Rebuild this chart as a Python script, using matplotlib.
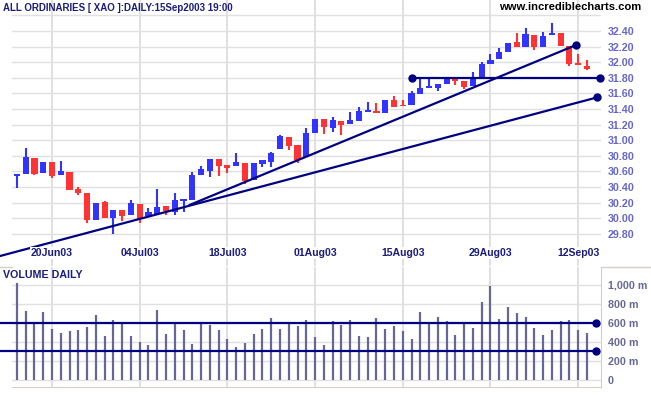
import matplotlib
matplotlib.use("Agg")
import matplotlib.pyplot as plt
from matplotlib.lines import Line2D

# ALL ORDINARIES daily, trading days 16 Jun 2003 .. 15 Sep 2003
opens = [30.535, 30.571, 30.772, 30.583, 30.72, 30.558, 30.592, 30.37, 30.323, 29.973,
         30.204, 30.00, 30.101, 30.041, 30.182, 30.032, 30.05, 30.153, 30.08, 30.22,
         30.233, 30.55, 30.609, 30.759, 30.682, 30.665, 30.712, 30.49, 30.691, 30.724,
         30.891, 31.041, 30.938, 30.781, 31.088, 31.268, 31.16, 31.242, 31.204, 31.25,
         31.365, 31.378, 31.353, 31.52, 31.455, 31.447, 31.596, 31.669, 31.673, 31.717,
         31.814, 31.755, 31.695, 31.794, 31.973, 32.037, 32.135, 32.255, 32.199, 32.345,
         32.199, 32.349, 32.374, 32.208, 31.994, 31.955]
highs = [30.567, 30.90, 30.772, 30.72, 30.72, 30.733, 30.592, 30.40, 30.323, 30.195,
         30.22, 30.101, 30.101, 30.23, 30.182, 30.127, 30.374, 30.153, 30.323, 30.242,
         30.589, 30.673, 30.759, 30.759, 30.682, 30.84, 30.712, 30.712, 30.742, 30.853,
         31.07, 31.041, 30.938, 31.153, 31.268, 31.268, 31.294, 31.242, 31.362, 31.426,
         31.486, 31.477, 31.52, 31.567, 31.515, 31.63, 31.81, 31.785, 31.717, 31.814,
         31.814, 31.755, 31.87, 31.999, 32.10, 32.178, 32.242, 32.378, 32.435, 32.345,
         32.383, 32.499, 32.374, 32.208, 32.105, 32.024]
lows = [30.391, 30.571, 30.558, 30.583, 30.519, 30.558, 30.365, 30.294, 29.935, 29.973,
        30.006, 29.794, 29.968, 30.041, 29.935, 30.032, 30.05, 30.037, 30.045, 30.076,
        30.233, 30.55, 30.532, 30.541, 30.576, 30.665, 30.435, 30.49, 30.66, 30.653,
        30.891, 30.878, 30.712, 30.781, 31.088, 31.083, 31.105, 31.07, 31.204, 31.25,
        31.365, 31.345, 31.353, 31.426, 31.435, 31.447, 31.596, 31.669, 31.627, 31.717,
        31.712, 31.66, 31.695, 31.794, 31.973, 32.037, 32.135, 32.199, 32.199, 32.153,
        32.19, 32.349, 32.208, 31.947, 31.96, 31.896]
closes = [30.567, 30.781, 30.571, 30.72, 30.545, 30.601, 30.365, 30.319, 29.973, 30.195,
          30.006, 30.101, 30.032, 30.191, 29.99, 30.076, 30.147, 30.088, 30.237, 30.242,
          30.55, 30.631, 30.759, 30.673, 30.647, 30.72, 30.477, 30.712, 30.742, 30.84,
          31.058, 30.93, 30.746, 31.088, 31.268, 31.165, 31.259, 31.191, 31.259, 31.37,
          31.383, 31.345, 31.52, 31.426, 31.435, 31.605, 31.673, 31.695, 31.717, 31.814,
          31.759, 31.682, 31.81, 31.981, 32.032, 32.135, 32.242, 32.199, 32.362, 32.199,
          32.336, 32.378, 32.208, 31.973, 31.96, 31.917]
volumes = [1015, 725, 609, 714, 536, 494, 515, 525, 557, 683,
           462, 630, 599, 462, 399, 368, 735, 483, 599, 525,
           378, 599, 578, 525, 431, 347, 389, 483, 536, 651,
           536, 599, 567, 630, 452, 368, 616, 574, 627, 462,
           452, 648, 536, 564, 515, 431, 714, 599, 662, 620,
           473, 599, 546, 819, 987, 641, 767, 704, 662, 546,
           473, 525, 620, 630, 525, 494]  # millions

date_pos = [4, 14, 24, 34, 44, 54, 64]
date_labels = ["20Jun03", "04Jul03", "18Jul03", "01Aug03", "15Aug03", "29Aug03", "12Sep03"]
price_ticks = [29.8, 30.0, 30.2, 30.4, 30.6, 30.8, 31.0, 31.2, 31.4, 31.6, 31.8, 32.0, 32.2, 32.4]
price_grid = price_ticks + [32.6]
vol_ticks = [0, 200, 400, 600, 800, 1000]
vol_labels = ["0", "200 m", "400 m", "600 m", "800 m", "1,000 m"]

# hand drawn lines (day index, value)
trend_long = ([-1.93, 66.2], [29.515, 31.55])
trend_steep = ([19.7, 63.75], [30.17, 32.22])
support = ([45, 66.5], [31.80, 31.80])
vol_lines = [600, 305]
vol_line_x = [-1.93, 66.0]

BLUE = "#3333ff"
RED = "#ff3333"
NAVY = "#000080"
GRID = "#e0e0e0"
TXT = "#1c1c7c"

W, H = 651, 395
plt.rcParams["font.family"] = ["Liberation Sans", "DejaVu Sans"]
plt.rcParams["font.weight"] = "bold"
fig = plt.figure(figsize=(W / 100, H / 100), dpi=100)

# pixel layout
x0, dx = 16.9, 8.77
L, R = 12, 601
xlim = ((L - x0) / dx, (R - x0) / dx)

ax = fig.add_axes([L / W, 1 - 266 / H, (R - L) / W, 266 / H])
vax = fig.add_axes([L / W, 1 - 387 / H, (R - L) / W, 120 / H])

# ---- price panel
ax.set_xlim(*xlim)
ax.set_ylim(32.40 - 235 / 78, 32.40 + 31 / 78)
for s in ax.spines.values():
    s.set_visible(False)
for g in price_grid:
    ax.axhline(g, color=GRID, lw=1.0, zorder=0)
for p in date_pos:
    ax.axvline(p, color=GRID, lw=1.4, zorder=0)

idx = range(len(opens))
cols = [BLUE if c >= o else RED for o, c in zip(opens, closes)]
ax.vlines(idx, lows, highs, colors=cols, lw=1.5, zorder=2)
bottoms = [min(o, c) for o, c in zip(opens, closes)]
heights = [max(abs(c - o), 0.022) for o, c in zip(opens, closes)]
ax.bar(idx, heights, bottom=bottoms, width=0.7, color=cols, lw=0, zorder=3)

lk = dict(color=NAVY, lw=1.6, clip_on=False, zorder=4)
ax.plot(*trend_long, **lk)
ax.plot(trend_long[0][1], trend_long[1][1], "o", color=NAVY, ms=5, clip_on=False, zorder=5)
ax.plot(*trend_steep, **lk)
ax.plot(trend_steep[0][1], trend_steep[1][1], "o", color=NAVY, ms=5, clip_on=False, zorder=5)
ax.plot(*support, **lk)
ax.plot(support[0], support[1], "o", color=NAVY, ms=5, clip_on=False, zorder=5)

ax.yaxis.tick_right()
ax.set_yticks(price_ticks)
ax.set_yticklabels(["%.2f" % t for t in price_ticks])
ax.tick_params(axis="y", length=0, pad=5, labelsize=7.7, labelcolor="#6666cc")
ax.set_xticks([])
for p, lab in zip(date_pos, date_labels):
    ax.text(p, 29.40 + 0.155, lab, ha="center", va="center", fontsize=7.6, color=TXT,
            fontweight="bold", bbox=dict(facecolor="white", edgecolor="none", pad=0.5), zorder=6)

# ---- volume panel
vax.set_xlim(*xlim)
vax.set_ylim(-73, 1186)
for k, s in vax.spines.items():
    s.set_visible(k in ("bottom", "right"))
    s.set_color("#d4d0c8")
for g in vol_ticks:
    vax.axhline(g, color=GRID, lw=1.0, zorder=0)
for p in date_pos:
    vax.axvline(p, color=GRID, lw=1.4, zorder=0)
vax.vlines(idx, 0, volumes, colors="#666699", lw=1.6, zorder=2)
for v in vol_lines:
    vax.plot(vol_line_x, [v, v], color=NAVY, lw=1.6, clip_on=False, zorder=4)
    vax.plot(vol_line_x[1], v, "o", color=NAVY, ms=5, clip_on=False, zorder=5)
vax.yaxis.tick_right()
vax.set_yticks(vol_ticks)
vax.set_yticklabels(vol_labels)
vax.tick_params(axis="y", length=0, pad=5, labelsize=7.7, labelcolor="#666699")
vax.set_xticks([])

fig.add_artist(Line2D([0, L / W], [1 - 267 / H] * 2, color="#d4d0c8", lw=1))
fig.add_artist(Line2D([R / W, 1], [1 - 267 / H] * 2, color="#d4d0c8", lw=1))

fig.text(3 / W, 1 - 8 / H, "ALL ORDINARIES [ XAO ]:DAILY:15Sep2003 19:00", fontsize=7.0,
         color=TXT, fontweight="bold", va="center", ha="left")
fig.text(641 / W, 1 - 7 / H, "www.incrediblecharts.com", fontsize=8.1, color="black",
         fontweight="bold", va="center", ha="right")
fig.text(3 / W, 1 - 275 / H, "VOLUME DAILY", fontsize=7.7, color=TXT, fontweight="bold",
         va="center", ha="left")

fig.savefig("out.png", dpi=100)
